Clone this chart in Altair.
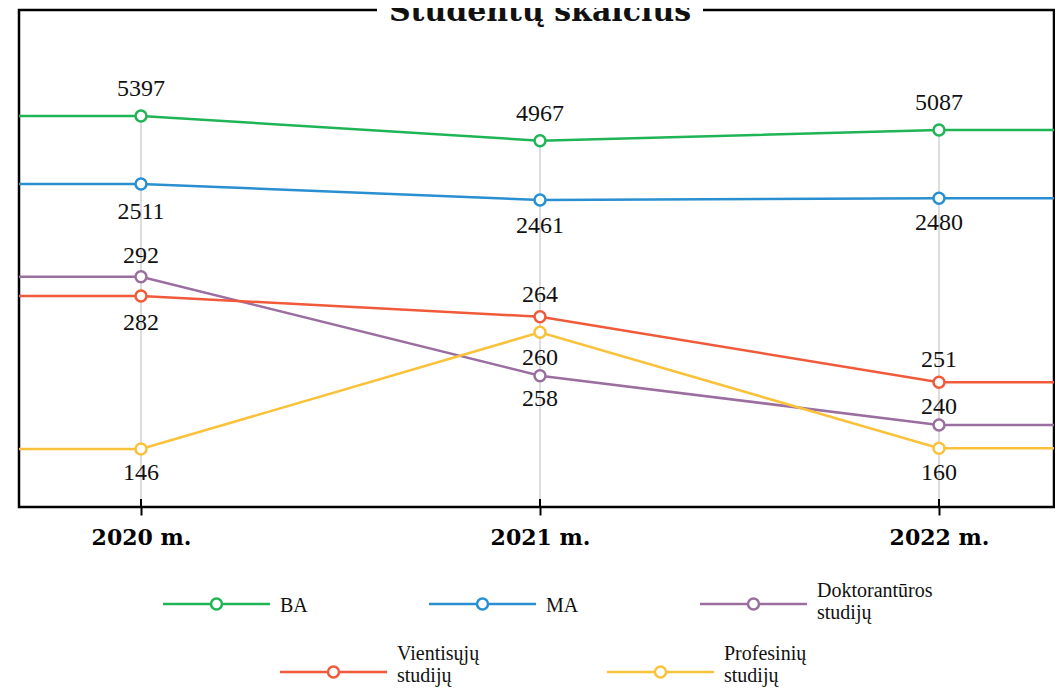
import altair as alt
import pandas as pd

# ---------------- data ----------------
YEARS = [2020, 2021, 2022]
SERIES = ["BA", "MA", "Doktorantūros studijų", "Vientisųjų studijų", "Profesinių studijų"]
LEGEND_TEXT = ["BA", "MA", "Doktorantūros\nstudijų", "Vientisųjų\nstudijų", "Profesinių\nstudijų"]
BA = [5397, 4967, 5087]
MA = [2511, 2461, 2480]
DOKT = [292, 258, 240]
VIENT = [282, 264, 251]
PROF = [146, 260, 160]
VALUES = [BA, MA, DOKT, VIENT, PROF]
TITLE = "Studentų skaičius"

# ---------------- style / layout ----------------
COLORS = ["#1fb556", "#2a8fd0", "#9a6fa0", "#f05a3a", "#f9c23a"]
W, H = 1035, 497
STEP = 399                                  # px between two years
LEFT_GAP, RIGHT_GAP = 122, W - 122 - 2 * STEP
X0, X1 = YEARS[0] - LEFT_GAP / STEP, YEARS[-1] + RIGHT_GAP / STEP

# the source chart uses a non-linear (piecewise) value axis
Y_DOMAIN = sorted(v for s in VALUES for v in s)
Y_RANGE = [439, 438.3, 415, 372.3, 365.7, 322.3, 306.7, 286, 266.7,
           190, 188.3, 174, 130.7, 120, 106]

# baseline offset of each value label from its point (negative = above)
LABEL_DY = [[-20, -20, -20],
            [35, 33, 32],
            [-14, 30, -11],
            [34, -15, -15],
            [31, 33, 32]]

# legend layout (pixels inside the plot coordinate system)
LEG_X = [144, 410, 681, 261, 588]
LEG_Y = [594, 594, 594, 662, 662]
LEG_TEXT_DY = [8, 8, -7, -12, -12]
LEG_LEN = 107

SERIF = "Liberation Serif"
BOLD_SERIF = "DejaVu Serif"

# ---------------- frames ----------------
pts = []
for s, vals, dys in zip(SERIES, VALUES, LABEL_DY):
    for y, v, d in zip(YEARS, vals, dys):
        pts.append({"series": s, "year": y, "value": v, "dy": d})
pts_df = pd.DataFrame(pts)

line_rows = []
for s, vals in zip(SERIES, VALUES):
    line_rows.append({"series": s, "year": X0, "value": vals[0]})
    for y, v in zip(YEARS, vals):
        line_rows.append({"series": s, "year": y, "value": v})
    line_rows.append({"series": s, "year": X1, "value": vals[-1]})
line_df = pd.DataFrame(line_rows)

grid_df = pd.DataFrame({"year": YEARS,
                        "top": [max(s[i] for s in VALUES) for i in range(len(YEARS))]})

leg_rows = []
for s, t, lx, ly, tdy in zip(SERIES, LEGEND_TEXT, LEG_X, LEG_Y, LEG_TEXT_DY):
    leg_rows.append({"series": s, "text": t, "x0": lx, "x1": lx + LEG_LEN,
                     "cx": lx + LEG_LEN / 2, "y": ly,
                     "tx": lx + LEG_LEN + 10, "ty": ly + tdy})
leg_df = pd.DataFrame(leg_rows)

# ---------------- encodings ----------------
color_scale = alt.Scale(domain=SERIES, range=COLORS)
x_axis = alt.Axis(values=YEARS, labelExpr="datum.value + ' m.'", labelFont=BOLD_SERIF,
                  labelFontWeight="bold", labelFontSize=22, labelColor="black",
                  tickSize=8, tickWidth=2, tickColor="black", domain=False, grid=False,
                  title=None, labelPadding=29, labelBaseline="alphabetic",
                  labelFlush=False, labelOverlap=False)
x_scale = alt.Scale(domain=[X0, X1], nice=False, zero=False)
y_scale = alt.Scale(domain=Y_DOMAIN, range=Y_RANGE, nice=False, zero=False)


def X(field):
    return alt.X(f"{field}:Q", scale=x_scale, axis=x_axis)


grid = alt.Chart(grid_df).mark_rule(color="#dddddd", strokeWidth=2).encode(
    x=X("year"), y=alt.Y("top:Q", scale=y_scale, axis=None), y2=alt.value(H))

ticks = alt.Chart(grid_df).mark_rule(color="black", strokeWidth=2).encode(
    x=X("year"), y=alt.value(H - 8), y2=alt.value(H))

lines = alt.Chart(line_df).mark_line(strokeWidth=2.5).encode(
    x=X("year"), y=alt.Y("value:Q", scale=y_scale, axis=None),
    color=alt.Color("series:N", scale=color_scale, legend=None),
    order="year:Q")

points = alt.Chart(pts_df).mark_point(shape="circle", filled=True, fill="white",
                                      size=120, strokeWidth=2.5, opacity=1).encode(
    x=X("year"), y=alt.Y("value:Q", scale=y_scale, axis=None),
    stroke=alt.Stroke("series:N", scale=color_scale, legend=None))

label_layers = []
for d in sorted(set(v for row in LABEL_DY for v in row)):
    label_layers.append(
        alt.Chart(pts_df).transform_filter(alt.datum.dy == d).mark_text(
            dy=d, font=SERIF, fontSize=24, baseline="alphabetic", align="center",
            color="#111111").encode(
            x=X("year"), y=alt.Y("value:Q", scale=y_scale, axis=None),
            text=alt.Text("value:Q", format="d")))

one = pd.DataFrame({"t": [TITLE]})
mask = alt.Chart(one).mark_rect(color="white").encode(
    x=alt.value(358), x2=alt.value(684), y=alt.value(-10), y2=alt.value(6))
title = alt.Chart(one).mark_text(font=BOLD_SERIF, fontWeight="bold", fontSize=30,
                                 baseline="alphabetic", align="center",
                                 color="#111111").encode(
    x=alt.value(521), y=alt.value(11), text="t:N")

main = alt.layer(grid, ticks, lines, points, *label_layers, mask, title)

leg_line = alt.Chart(leg_df).mark_rule(strokeWidth=2.5).encode(
    x=alt.X("x0:Q", scale=None), x2="x1:Q", y=alt.Y("y:Q", scale=None),
    color=alt.Color("series:N", scale=color_scale, legend=None))
leg_pt = alt.Chart(leg_df).mark_point(shape="circle", filled=True, fill="white",
                                      size=120, strokeWidth=2.5, opacity=1).encode(
    x=alt.X("cx:Q", scale=None), y=alt.Y("y:Q", scale=None),
    stroke=alt.Stroke("series:N", scale=color_scale, legend=None))
leg_txt = alt.Chart(leg_df).mark_text(font=SERIF, fontSize=20, align="left",
                                      baseline="alphabetic", lineBreak="\n",
                                      lineHeight=22, color="#111111").encode(
    x=alt.X("tx:Q", scale=None), y=alt.Y("ty:Q", scale=None), text="text:N")
legend = alt.layer(leg_line, leg_pt, leg_txt)

chart = alt.layer(main, legend).resolve_scale(x="independent", y="independent").properties(
    width=W, height=H,
    autosize=alt.AutoSizeParams(type="none"),
    padding={"left": 11, "top": 2, "right": 1, "bottom": 180},
    background="white",
).configure_view(stroke="black", strokeWidth=2.5)

chart.save("out.html", embed_options={"renderer": "svg", "actions": False})
